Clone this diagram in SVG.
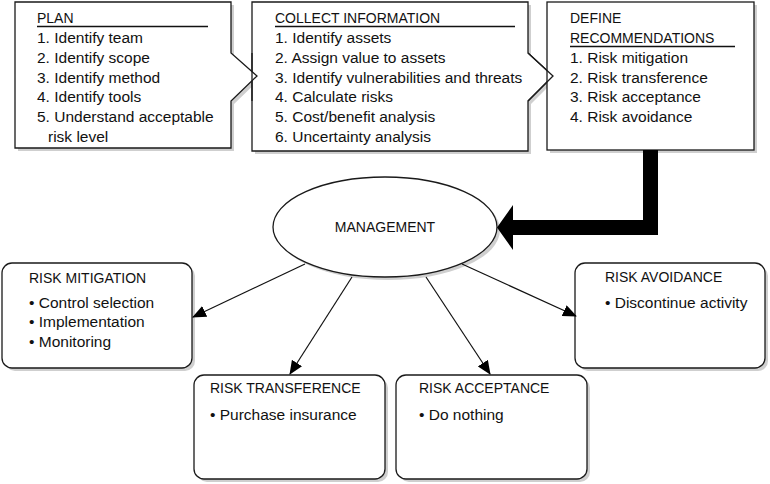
<svg xmlns="http://www.w3.org/2000/svg" width="770" height="484" viewBox="0 0 770 484">
<style>
  .box{fill:#fff;stroke:#1a1a1a;stroke-width:1.3}
  .nofill{fill:none;stroke:#1a1a1a;stroke-width:1.3}
  .sh{fill:#cfcfcf;stroke:none}
  .t{font-family:"Liberation Sans",Arial,sans-serif;font-size:15.5px;fill:#111}
  .h{font-family:"Liberation Sans",Arial,sans-serif;font-size:14px;fill:#111}
  .ul{stroke:#111;stroke-width:1.5}
  .conn{stroke:#111;stroke-width:1.2;fill:none;marker-end:url(#ah)}
</style>
<defs>
  <marker id="ah" markerWidth="14" markerHeight="12" refX="13" refY="6" orient="auto" markerUnits="userSpaceOnUse">
    <path d="M0,0 L14,6 L0,12 Z" fill="#000"/>
  </marker>
</defs>
<rect width="770" height="484" fill="#fff"/>

<!-- shadows -->
<g id="shadows">
  <path class="sh" d="M18,5 H234 V56 L260,79 L234,104 V151 H18 Z"/>
  <path class="sh" d="M255,5 H531 V56 L556,79 L531,104 V154 H255 Z"/>
  <rect class="sh" x="550" y="5" width="207" height="148"/>
  <ellipse class="sh" cx="388" cy="230" rx="112" ry="50"/>
  <rect class="sh" x="5" y="266" width="190" height="105" rx="10"/>
  <rect class="sh" x="197" y="378" width="191" height="104" rx="10"/>
  <rect class="sh" x="399" y="378" width="191" height="104" rx="10"/>
  <rect class="sh" x="578" y="266" width="190" height="105" rx="10"/>
</g>

<g id="collect">
  <path class="box" d="M252,2 H528 V53 L553,76 L528,101 V151 H252 Z"/>
  <text class="h" x="275" y="23">COLLECT INFORMATION</text>
  <line class="ul" x1="275" y1="26.5" x2="515" y2="26.5"/>
  <text class="t" x="275" y="43">1. Identify assets</text>
  <text class="t" x="275" y="63">2. Assign value to assets</text>
  <text class="t" x="275" y="83">3. Identify vulnerabilities and threats</text>
  <text class="t" x="275" y="102">4. Calculate risks</text>
  <text class="t" x="275" y="122">5. Cost/benefit analysis</text>
  <text class="t" x="275" y="142">6. Uncertainty analysis</text>
</g>

<g id="plan">
  <path class="box" d="M15,2 H231 V53 L257,76 L231,101 V148 H15 Z"/>
  <line class="nofill" x1="252" y1="53" x2="252" y2="101"/>
  <text class="h" x="37" y="23">PLAN</text>
  <line class="ul" x1="37" y1="26.5" x2="208" y2="26.5"/>
  <text class="t" x="37" y="43">1. Identify team</text>
  <text class="t" x="37" y="63">2. Identify scope</text>
  <text class="t" x="37" y="83">3. Identify method</text>
  <text class="t" x="37" y="102">4. Identify tools</text>
  <text class="t" x="37" y="122">5. Understand acceptable</text>
  <text class="t" x="48" y="142">risk level</text>
</g>

<g id="define">
  <rect class="box" x="547" y="2" width="207" height="148"/>
  <path class="box" d="M528,53 L553,76 L528,101" style="fill:none"/>
  <text class="h" x="570" y="23">DEFINE</text>
  <text class="h" x="570" y="43">RECOMMENDATIONS</text>
  <line class="ul" x1="570" y1="46.5" x2="735" y2="46.5"/>
  <text class="t" x="570" y="63">1. Risk mitigation</text>
  <text class="t" x="570" y="83">2. Risk transference</text>
  <text class="t" x="570" y="102">3. Risk acceptance</text>
  <text class="t" x="570" y="122">4. Risk avoidance</text>
</g>

<g id="management">
  <ellipse class="box" cx="385" cy="227" rx="112" ry="50"/>
  <text class="h" x="385" y="232" text-anchor="middle">MANAGEMENT</text>
</g>

<g id="risk-mitigation">
  <rect class="box" x="2" y="263" width="190" height="105" rx="10"/>
  <text class="h" x="29" y="283">RISK MITIGATION</text>
  <text class="t" x="29" y="308">• Control selection</text>
  <text class="t" x="29" y="327">• Implementation</text>
  <text class="t" x="29" y="347">• Monitoring</text>
</g>

<g id="risk-transference">
  <rect class="box" x="194" y="375" width="191" height="104" rx="10"/>
  <text class="h" x="210" y="393">RISK TRANSFERENCE</text>
  <text class="t" x="210" y="420">• Purchase insurance</text>
</g>

<g id="risk-acceptance">
  <rect class="box" x="396" y="375" width="191" height="104" rx="10"/>
  <text class="h" x="419" y="393">RISK ACCEPTANCE</text>
  <text class="t" x="419" y="420">• Do nothing</text>
</g>

<g id="risk-avoidance">
  <rect class="box" x="575" y="263" width="190" height="105" rx="10"/>
  <text class="h" x="605" y="282">RISK AVOIDANCE</text>
  <text class="t" x="605" y="308">• Discontinue activity</text>
</g>

<g id="connectors">
  <path d="M643,150 H658 V235 H513 V250 L497,227.5 L513,205 V220 H643 Z" fill="#000"/>
  <line class="conn" x1="305" y1="264" x2="193" y2="317"/>
  <line class="conn" x1="352" y1="277" x2="290" y2="374"/>
  <line class="conn" x1="426" y1="277" x2="490" y2="374"/>
  <line class="conn" x1="462" y1="264" x2="576" y2="316"/>
</g>
</svg>
